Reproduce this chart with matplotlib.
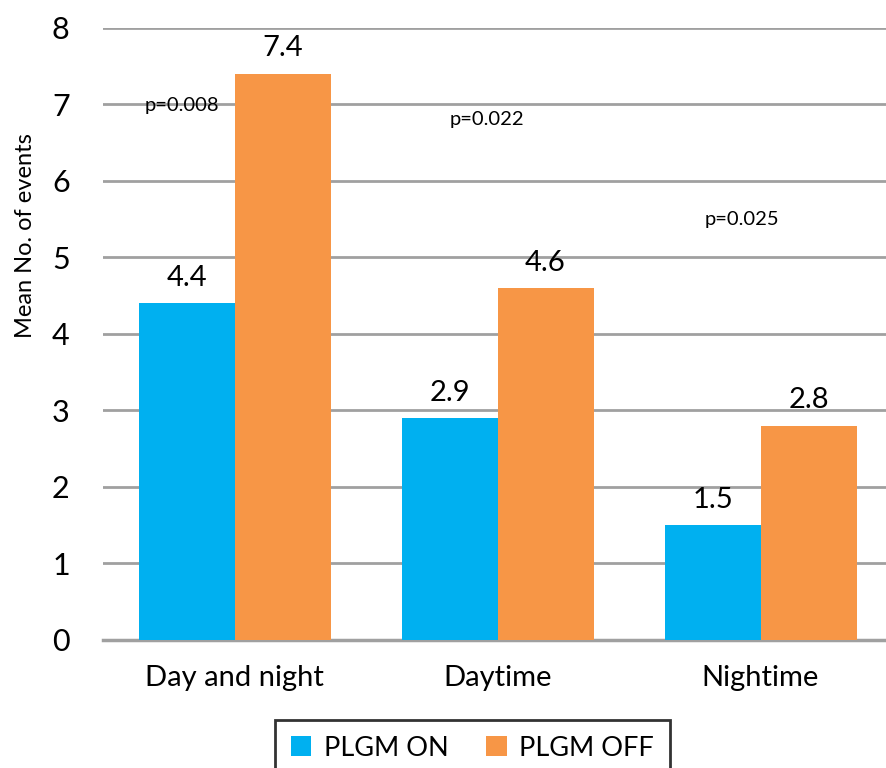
import numpy as np
import matplotlib.pyplot as plt

categories = ["Day and night", "Daytime", "Nightime"]
plgm_on = [4.4, 2.9, 1.5]
plgm_off = [7.4, 4.6, 2.8]
p_values = ["p=0.008", "p=0.022", "p=0.025"]
p_pos = [(-0.2, 6.99), (0.96, 6.8), (1.93, 5.5)]

plt.rcParams['font.family'] = ['Lato', 'DejaVu Sans']

fig = plt.figure(figsize=(8.86, 7.68), dpi=100)
ax = fig.add_axes([0.1163, 0.1667, 0.8905, 0.797])

x = np.arange(len(categories))
w = 0.365
b1 = ax.bar(x - w / 2, plgm_on, w, color="#00B0F0", label="PLGM ON", zorder=3)
b2 = ax.bar(x + w / 2, plgm_off, w, color="#F79646", label="PLGM OFF", zorder=3)

# value labels above each bar
for bars, vals in [(b1, plgm_on), (b2, plgm_off)]:
    for rect, v in zip(bars, vals):
        ax.annotate(f"{v:.1f}", (rect.get_x() + rect.get_width() / 2, v),
                    xytext=(0, 9), textcoords="offset points",
                    ha="center", va="bottom", fontsize=21)

for txt, (px, py) in zip(p_values, p_pos):
    ax.text(px, py, txt, ha="center", va="center", fontsize=14.5, zorder=4)

ax.set_xlim(-0.5, 2.5)
ax.set_ylim(0, 8)
ax.set_yticks(range(0, 9))
ax.set_xticks(x)
ax.set_xticklabels(categories, fontsize=21)
ax.tick_params(axis="y", labelsize=22, length=0, pad=24)
ax.tick_params(axis="x", length=0, pad=18)
ax.set_ylabel("Mean No. of events", fontsize=17)
ax.yaxis.set_label_coords(-0.085, 0.66)

ax.grid(axis="y", color="#A0A0A0", linewidth=2, zorder=0)
for s in ["top", "right", "left"]:
    ax.spines[s].set_visible(False)
ax.spines["bottom"].set_color("#A0A0A0")
ax.spines["bottom"].set_linewidth(2.5)

leg = ax.legend(loc="upper center", bbox_to_anchor=(0.468, -0.13), ncol=2,
                fontsize=19.5, frameon=True, fancybox=False, edgecolor="black",
                handlelength=0.75, handleheight=0.75, columnspacing=1.4,
                borderpad=0.6, handletextpad=0.45, borderaxespad=0.0)
leg.get_frame().set_linewidth(2)

fig.savefig("out.png", dpi=100)
